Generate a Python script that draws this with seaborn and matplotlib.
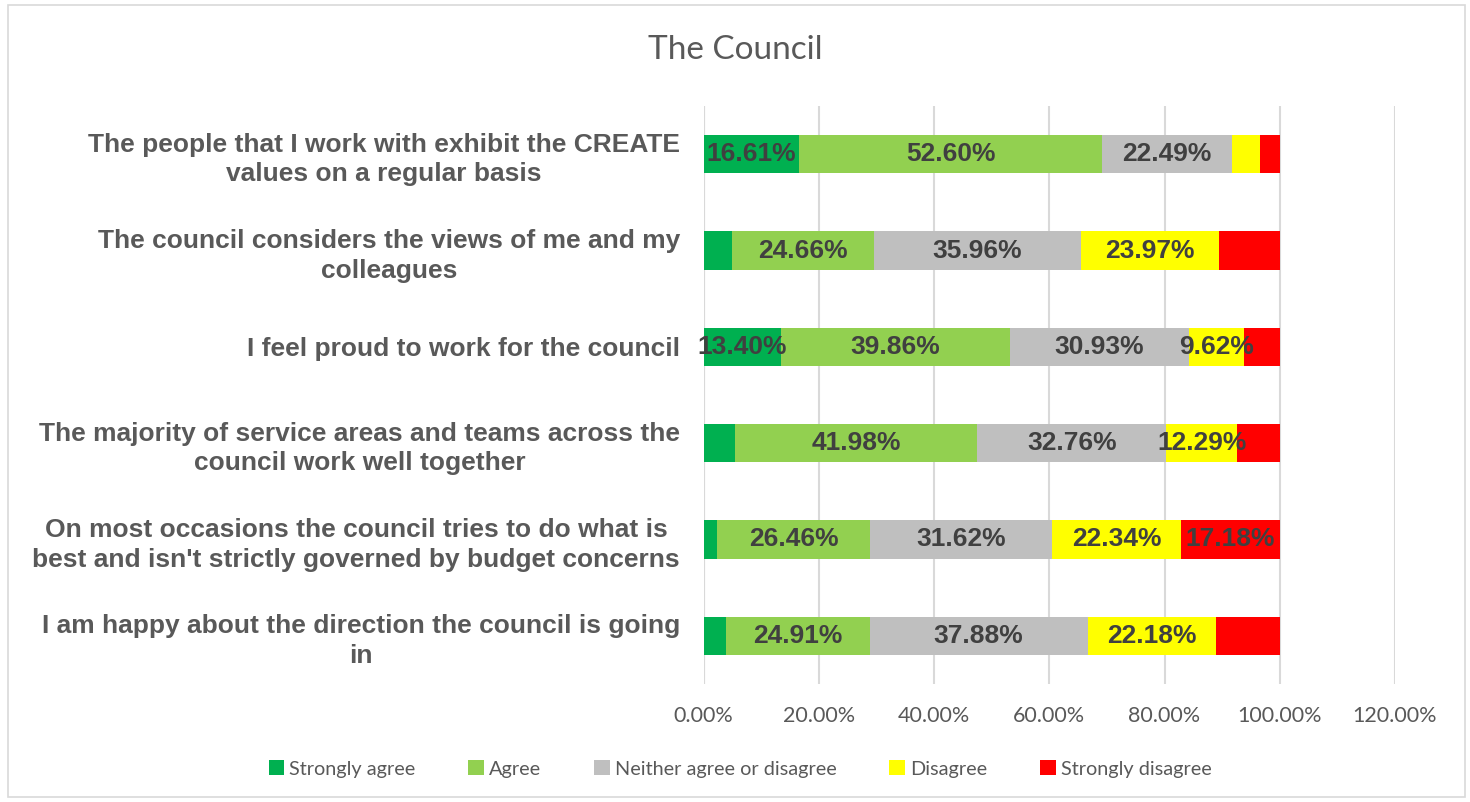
import matplotlib
matplotlib.use("Agg")
import matplotlib.pyplot as plt
import seaborn as sns
import pandas as pd
import numpy as np
from matplotlib.patches import Rectangle, Patch

# Survey statements (top to bottom)
statements = [
    "The people that I work with exhibit the CREATE\nvalues on a regular basis",
    "The council considers the views of me and my\ncolleagues",
    "I feel proud to work for the council",
    "The majority of service areas and teams across the\ncouncil work well together",
    "On most occasions the council tries to do what is\nbest and isn't strictly governed by budget concerns",
    "I am happy about the direction the council is going\nin",
]

responses = ["Strongly agree", "Agree", "Neither agree or disagree", "Disagree", "Strongly disagree"]

strongly_agree = [16.61, 4.91, 13.40, 5.55, 2.40, 3.90]
agree = [52.60, 24.66, 39.86, 41.98, 26.46, 24.91]
neither = [22.49, 35.96, 30.93, 32.76, 31.62, 37.88]
disagree = [4.80, 23.97, 9.62, 12.29, 22.34, 22.18]
strongly_disagree = [3.50, 10.50, 6.19, 7.42, 17.18, 11.13]

# Which segments carry a value label
labelled = {
    "Strongly agree": [True, False, True, False, False, False],
    "Agree": [True, True, True, True, True, True],
    "Neither agree or disagree": [True, True, True, True, True, True],
    "Disagree": [False, True, True, True, True, True],
    "Strongly disagree": [False, False, False, False, True, False],
}

colors = ["#00B050", "#92D050", "#BFBFBF", "#FFFF00", "#FF0000"]

series = [strongly_agree, agree, neither, disagree, strongly_disagree]
df = pd.DataFrame({r: v for r, v in zip(responses, series)})
df["Statement"] = statements
cum = df[responses].cumsum(axis=1)
cum["Statement"] = statements

sns.set_theme(style="white")
plt.rcParams["font.family"] = ["Liberation Sans", "DejaVu Sans"]

fig = plt.figure(figsize=(14.7, 8.02), dpi=100)
ax = fig.add_axes([703.5 / 1470, 1 - 684 / 802, (1395 - 703.5) / 1470, (684 - 106) / 802])

# Stacked bars: draw cumulative totals from the last series backwards
for resp, col in reversed(list(zip(responses, colors))):
    sns.barplot(data=cum, x=resp, y="Statement", orient="h", color=col,
                width=0.40, ax=ax, saturation=1, edgecolor="none", linewidth=0,
                zorder=3)

# Value labels centred on each segment
for resp in responses:
    starts = (cum[resp] - df[resp]).values
    for i, (s, v) in enumerate(zip(starts, df[resp].values)):
        if labelled[resp][i]:
            ax.text(s + v / 2, i, f"{v:.2f}%", ha="center", va="center",
                    fontsize=19, fontweight="bold", color="#404040", zorder=5)

ax.set_xlim(0, 120)
ax.set_ylim(5.5, -0.5)
ax.set_xticks(np.arange(0, 121, 20))
ax.set_xticklabels([f"{t:.2f}%" for t in np.arange(0, 121, 20)],
                   fontsize=15.5, color="#595959", family="Lato")
ax.set_xlabel("")
ax.set_ylabel("")
ax.grid(axis="x", color="#D9D9D9", linewidth=1.5, zorder=0)
ax.grid(axis="y", visible=False)
for sp in ax.spines.values():
    sp.set_visible(False)
ax.axvline(0, color="#D9D9D9", linewidth=1.5, zorder=1)
ax.tick_params(axis="y", length=0, pad=17, labelsize=19, labelcolor="#595959")
ax.tick_params(axis="x", length=0, pad=16)
for lab in ax.get_yticklabels():
    lab.set_fontweight("bold")
    lab.set_multialignment("center")
    lab.set_linespacing(1.3)

fig.text(735 / 1470, 1 - 50 / 802, "The Council", ha="center", va="center",
         fontsize=24, color="#595959", family="Lato")

handles = [Patch(facecolor=c, edgecolor="none") for c in colors]
fig.legend(handles, responses, loc="center", bbox_to_anchor=(740 / 1470, 1 - 769 / 802),
           ncol=5, frameon=False, handlelength=0.8, handleheight=0.8,
           handletextpad=0.25, columnspacing=2.65,
           prop={"family": "Lato", "size": 14.3}, labelcolor="#595959")

# Chart area border
fig.patches.append(Rectangle((8 / 1470, 5 / 802), 1457 / 1470, 792 / 802,
                             transform=fig.transFigure, fill=False,
                             edgecolor="#D9D9D9", linewidth=1.2))

fig.savefig("out.png", dpi=100, facecolor="white")
